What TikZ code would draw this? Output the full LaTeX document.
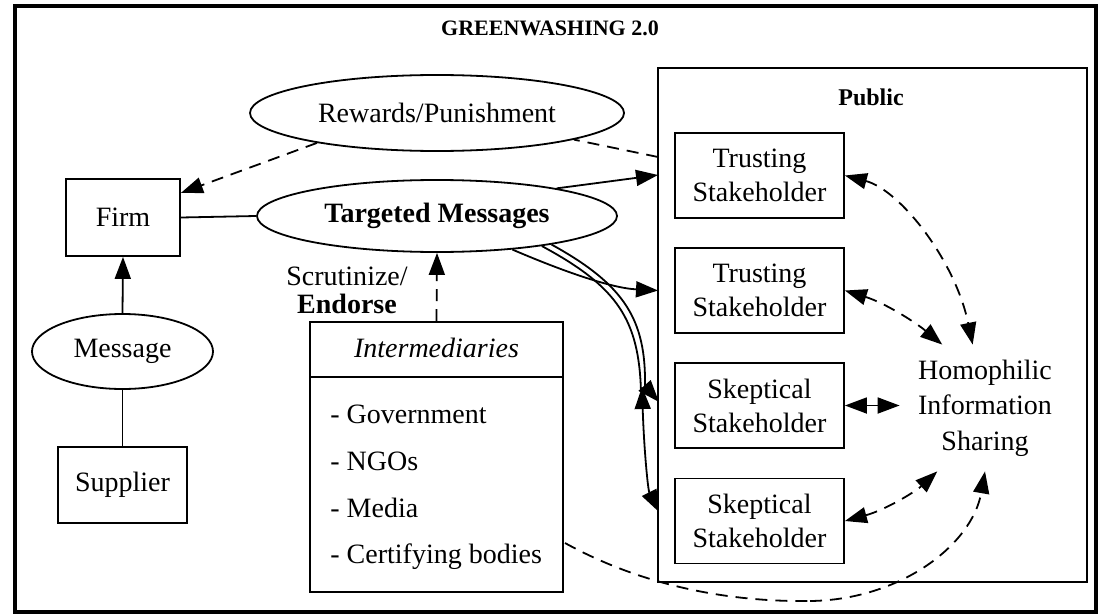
\documentclass[tikz,border=0pt]{standalone}
\usepackage{fontspec}
\setmainfont{Liberation Serif}
\usetikzlibrary{arrows.meta,shapes.geometric}
\begin{document}
\begin{tikzpicture}[x=0.5pt,y=-0.5pt,
  every node/.style={font=\fontsize{14}{17}\selectfont, inner sep=0pt},
  box/.style={draw, line width=0.9pt, rectangle},
  ell/.style={draw, line width=0.9pt, ellipse},
  conn/.style={line width=0.9pt},
  arr/.style={conn, -{Triangle[length=11pt,width=8pt]}},
  barr/.style={conn, {Triangle[length=11pt,width=8pt]}-{Triangle[length=11pt,width=8pt]}},
  rarr/.style={conn, {Triangle[length=11pt,width=8pt]}-},
  dsh/.style={dash pattern=on 6pt off 4pt},
]
\useasboundingbox (0,0) rectangle (1101,615);
% outer frame
\draw[line width=1.8pt] (15,6) rectangle (1096,612);
\node[font=\fontsize{11}{13}\selectfont\bfseries] (title) at (550,28.5) {GREENWASHING 2.0};

% public cluster
\node[box, minimum width=214.5pt, minimum height=257pt] (pub) at (872.5,325) {};
\node[font=\fontsize{12}{14}\selectfont\bfseries] (publbl) at (871,97) {Public};

\node[box, minimum width=84.5pt, minimum height=42.5pt, align=center] (tr1) at (759.5,175.5) {Trusting\\Stakeholder};
\node[box, minimum width=84.5pt, minimum height=42.5pt, align=center] (tr2) at (759.5,290.5) {Trusting\\Stakeholder};
\node[box, minimum width=84.5pt, minimum height=42.5pt, align=center] (sk1) at (759.5,405.5) {Skeptical\\Stakeholder};
\node[box, minimum width=84.5pt, minimum height=42.5pt, align=center] (sk2) at (759.5,521) {Skeptical\\Stakeholder};

\node[minimum width=85pt, minimum height=63pt, align=center, font=\fontsize{14}{17.75}\selectfont] (homo) at (985,408) {Homophilic\\Information\\Sharing};

% left part
\node[ell, minimum width=187pt, minimum height=38pt] (rew) at (437,113) {Rewards/Punishment};
\node[ell, minimum width=180pt, minimum height=36pt, font=\fontsize{14}{17}\selectfont\bfseries] (tm) at (437,216) {Targeted Messages};
\node[box, minimum width=57pt, minimum height=38.5pt] (firm) at (123,217.5) {Firm};
\node[ell, minimum width=90.5pt, minimum height=37.5pt] (msg) at (122.5,351.5) {Message};
\node[box, minimum width=64.5pt, minimum height=38pt] (sup) at (122.5,485) {Supplier};

% intermediaries
\node[box, minimum width=126.5pt, minimum height=135pt] (inter) at (436.5,457) {};
\draw[line width=0.9pt] (310,377) -- (563,377);
\node[anchor=base, font=\fontsize{14}{17}\selectfont\itshape] (interh) at (436.5,357) {Intermediaries};
\node[anchor=base west] (it1) at (330,423) {- Government};
\node[anchor=base west] (it2) at (330,470) {- NGOs};
\node[anchor=base west] (it3) at (330,517) {- Media};
\node[anchor=base west] (it4) at (330,563) {- Certifying bodies};

\node[anchor=base] (scr) at (347,285) {Scrutinize/};
\node[anchor=base, font=\fontsize{14}{17}\selectfont\bfseries] (endo) at (347,313) {Endorse};

% named coordinates on the cluster border
\coordinate (pRew) at (658,157);
\coordinate (pT1) at (658,175);
\coordinate (pT2) at (658,290.5);
\coordinate (pS1) at (659,402);
\coordinate (pS2) at (659,512);
\coordinate (upTip) at (642,387);
\coordinate (bEnd) at (641,392);
\coordinate (aBend) at (645,386);
\coordinate (iStart) at (565,543);
\coordinate (iLow) at (810,601);

% edges left
\draw[arr] (msg.north) -- (firm.south);
\draw[conn] (sup.north) -- (msg.south);
\draw[conn] (firm.east) -- (tm.west);
\draw[arr, dsh] (rew.194) -- (firm.23);
\draw[conn, dsh] (pRew) -- (rew.349);
\draw[arr, dsh] (inter.north) -- (tm.south);

% targeted messages to stakeholders
\draw[arr] (tm.13) -- (pT1);
\draw[arr] (tm.-24) .. controls (560,270) and (610,288) .. (pT2);
\draw[arr] (tm.-14) .. controls (625,285) and (646,320) .. (aBend) -- (pS1);
\draw[conn] (tm.-16) .. controls (618,287) and (639,320) .. (bEnd);
\draw[barr] (upTip) .. controls (644,450) and (648,490) .. (pS2);

% homophilic connections
\draw[barr, dsh] (tr1.east) .. controls (900,190) and (955,260) .. (homo.101);
\draw[barr, dsh] (tr2.east) .. controls (885,303) and (915,322) .. (homo.124);
\draw[barr] (sk1.east) -- (sk1.east -| homo.west);
\draw[barr, dsh] (sk2.east) .. controls (885,510) and (915,492) .. (homo.233);
\draw[dsh, conn] (iStart) .. controls (650,590) and (740,602) .. (iLow);
\draw[arr, dsh] (iLow) .. controls (900,600) and (972,545) .. (homo.south);
\end{tikzpicture}
\end{document}
